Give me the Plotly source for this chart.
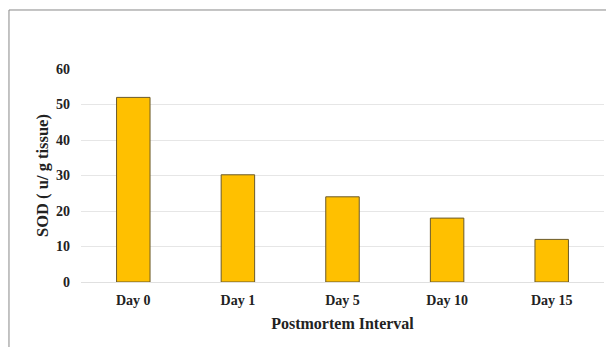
import plotly.graph_objects as go

categories = ["Day 0", "Day 1", "Day 5", "Day 10", "Day 15"]
sod_values = [52.0, 30.2, 24.0, 18.0, 12.0]
y_ticks = [0, 10, 20, 30, 40, 50, 60]

font_family = "Liberation Serif, Times New Roman, serif"

fig = go.Figure(
    go.Bar(
        x=categories,
        y=sod_values,
        marker=dict(color="#FFC000", line=dict(color="#6b5a2a", width=1)),
        width=0.32,
    )
)

fig.update_layout(
    width=606,
    height=339,
    margin=dict(l=73, r=10, t=61, b=65),
    paper_bgcolor="white",
    plot_bgcolor="white",
    showlegend=False,
    font=dict(family=font_family, color="#222222"),
    xaxis=dict(
        automargin=False,
        title=dict(text="<b>Postmortem Interval</b>", font=dict(size=16, family=font_family), standoff=10),
        tickvals=categories,
        ticktext=[f"<b>{c}</b>" for c in categories],
        tickfont=dict(size=14, family=font_family),
        ticklabelstandoff=8,
        showgrid=False,
        showline=False,
    ),
    yaxis=dict(
        automargin=False,
        title=dict(text="<b>SOD ( u/ g tissue)</b>", font=dict(size=16.5, family=font_family), standoff=3),
        range=[0, 60],
        tickvals=y_ticks,
        ticktext=[f"<b>{v}</b>" for v in y_ticks],
        tickfont=dict(size=14, family=font_family),
        showgrid=True,
        gridcolor="#e6e6e6",
        gridwidth=1,
        zeroline=True,
        zerolinecolor="#e0e0e0",
        zerolinewidth=1,
        ticklabelstandoff=10,
    ),
    shapes=[
        dict(type="line", xref="paper", yref="paper", x0=-0.1377, x1=1.03, y0=1.277, y1=1.277,
             line=dict(color="#888888", width=1)),
        dict(type="line", xref="paper", yref="paper", x0=-0.1377, x1=-0.1377, y0=1.277, y1=-0.31,
             line=dict(color="#888888", width=1)),
    ],
)

fig.write_html("out.html")
